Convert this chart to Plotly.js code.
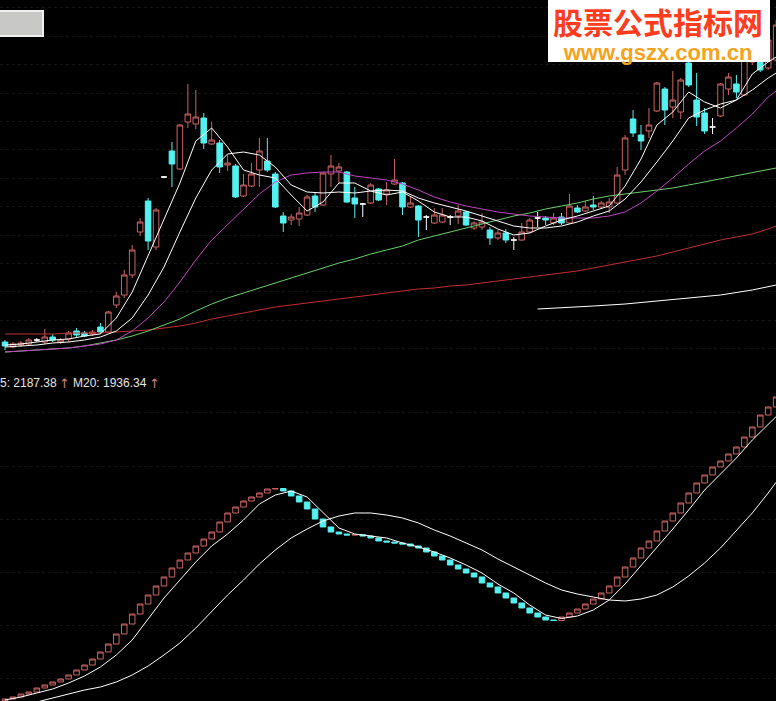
<!DOCTYPE html>
<html>
<head>
<meta charset="utf-8">
<script src="https://cdn.plot.ly/plotly-3.0.1.min.js"></script>
<style>
  html, body { margin: 0; padding: 0; background: #000; }
  #chart { width: 776px; height: 701px; }
</style>
</head>
<body>
<div id="chart"></div>
<script>
// ---- daily candles (price) ----
const openP = [
  3.8,3.3,3.5,3.6,4.0,3.8,4.3,3.8,4.1,4.9,
  4.7,4.6,5.3,4.8,7.5,8.5,10.5,14.8,17.9,13.3,
  20.3,22.9,21.1,25.8,25.6,26.2,23.6,23.7,21.5,21.4,
  18.4,19.4,21.0,21.9,20.6,16.4,16.0,16.1,16.5,18.4,
  17.5,20.6,20.9,20.8,18.2,17.6,17.7,19.1,18.6,19.6,
  19.7,17.3,17.4,16.3,15.7,15.8,16.3,16.4,16.8,15.2,
  15.3,15.0,14.2,14.7,14.0,14.0,14.8,16.2,16.2,15.7,
  16.3,15.7,17.2,16.9,17.5,17.3,17.3,17.7,21.0,26.1,
  24.5,24.9,26.9,29.1,27.3,26.8,31.7,28.0,26.7,25.3,
  26.4,29.1,29.6,28.5,31.8,33.0,31.2,32.0
];
const highP = [
  4.0,3.8,3.9,4.2,4.2,5.1,4.6,4.2,4.9,5.2,
  4.9,5.0,5.7,6.9,8.8,11.0,13.5,16.2,18.2,17.2,
  20.4,23.8,25.6,29.6,29.0,26.7,25.8,24.0,22.5,21.6,
  20.6,21.7,24.2,24.2,20.8,16.8,16.6,17.3,18.5,18.7,
  20.8,22.5,21.7,20.9,19.3,17.7,19.7,19.2,19.8,22.1,
  19.8,18.4,17.5,16.5,17.2,17.2,16.5,17.5,16.9,15.9,
  16.7,15.3,15.0,15.1,14.3,15.7,16.2,16.8,16.4,16.7,
  16.7,18.6,17.5,17.9,18.4,17.9,18.2,21.3,24.5,27.0,
  25.5,27.2,29.8,29.3,30.9,30.2,32.1,30.7,27.2,26.2,
  29.7,30.7,30.5,32.5,34.0,33.5,34.5,36.0
];
const lowP = [
  3.0,3.2,3.3,3.4,3.8,3.6,3.8,3.6,3.8,4.3,
  4.3,4.4,4.6,4.7,7.2,8.2,10.2,14.4,13.0,13.0,
  20.2,19.3,21.0,25.2,25.1,23.1,23.5,20.7,20.9,18.2,
  18.3,19.3,19.3,20.8,17.2,14.8,15.5,15.4,16.4,16.8,
  17.4,19.3,19.7,17.7,16.2,16.3,17.6,17.9,17.5,19.5,
  16.5,17.2,14.3,15.0,15.6,15.7,15.5,15.6,15.4,15.0,
  15.0,13.5,14.0,13.7,13.0,13.9,14.7,15.3,15.5,15.5,
  15.5,15.6,16.7,16.8,17.0,17.2,16.7,17.6,20.5,24.3,
  23.0,24.2,26.8,25.5,26.2,26.1,29.3,25.4,24.6,24.6,
  26.3,28.5,28.2,28.4,31.5,30.8,31.0,31.8
];
const closeP = [
  3.4,3.6,3.7,4.0,4.0,4.3,4.0,4.0,4.7,4.5,
  4.4,4.8,4.8,6.8,8.4,10.5,13.0,15.8,13.9,17.0,
  20.3,21.6,25.5,26.6,26.3,23.7,24.0,21.3,21.7,18.3,
  19.5,20.6,22.9,21.0,17.3,15.7,16.3,16.7,18.3,17.3,
  20.7,21.4,21.3,17.8,17.6,17.6,19.5,18.0,19.0,20.0,
  17.3,17.7,16.0,16.3,16.5,16.5,16.3,16.9,15.5,15.7,
  15.8,14.2,14.7,14.0,14.0,14.8,16.0,16.2,16.0,16.2,
  15.7,17.4,16.8,17.3,17.3,17.7,17.8,20.5,24.2,24.7,
  23.9,25.5,29.7,27.0,28.0,30.0,29.5,26.3,24.9,25.3,
  29.6,30.3,28.8,32.1,33.2,31.0,34.0,35.5
];

// ---- moving averages of price, sampled every other session ----
const maIdx = [0,2,4,6,8,10,12,14,16,18,20,22,24,26,28,30,32,34,36,38,40,42,44,46,48,
               50,52,54,56,58,60,62,64,66,68,70,72,74,76,78,80,82,84,86,88,90,92,94,96,97];
const ma5 = [3.5,3.6,3.8,4.0,4.1,4.4,4.6,6.2,8.8,12.4,16.0,19.7,23.9,25.2,23.3,21.0,20.5,20.2,18.5,16.9,
             17.8,19.7,19.7,18.9,18.5,18.8,17.9,16.8,16.3,16.3,15.9,15.1,14.5,14.7,15.4,16.0,16.4,16.9,17.4,19.4,
             22.1,25.5,26.8,28.8,27.8,27.2,28.0,30.6,31.8,32.3];
const ma10 = [3.3,3.4,3.5,3.7,3.8,4.0,4.3,4.9,6.2,8.5,11.3,14.8,18.2,21.0,22.6,22.8,22.5,21.3,19.5,18.8,
              18.7,18.8,18.7,18.9,19.0,18.9,18.2,17.7,17.3,16.9,16.4,15.9,15.4,15.2,15.2,15.4,15.8,16.4,16.9,18.1,
              19.8,21.8,23.9,26.2,27.0,27.6,28.0,29.0,30.2,30.7];
const ma20 = [2.8,2.9,3.0,3.1,3.2,3.4,3.6,4.0,4.9,6.2,7.8,9.8,12.0,14.0,15.5,17.0,18.6,19.8,20.5,20.7,
              20.8,20.8,20.4,20.2,20.0,19.6,19.0,18.3,17.8,17.4,17.1,16.8,16.6,16.4,16.3,16.2,16.2,16.2,16.4,16.8,
              17.7,18.9,20.2,21.6,22.9,23.9,25.2,26.6,28.3,28.9];
const ma60 = [2.8,2.9,3.0,3.1,3.2,3.4,3.7,4.0,4.4,4.9,5.5,6.1,6.9,7.6,8.2,8.7,9.2,9.7,10.2,10.7,
              11.2,11.7,12.1,12.6,13.0,13.4,14.0,14.4,14.8,15.2,15.6,16.0,16.4,16.7,17.1,17.4,17.7,18.1,18.4,18.6,
              18.8,19.0,19.2,19.5,19.8,20.1,20.4,20.7,21.0,21.2];
const ma120 = [4.6,4.6,4.6,4.6,4.7,4.7,4.7,4.8,4.9,5.0,5.2,5.4,5.7,6.1,6.4,6.7,7.0,7.3,7.5,7.7,
               7.9,8.1,8.3,8.5,8.7,8.9,9.1,9.2,9.4,9.5,9.7,9.9,10.1,10.3,10.5,10.7,10.9,11.2,11.5,11.8,
               12.1,12.4,12.8,13.2,13.6,14.0,14.3,14.6,15.1,15.4];
const ma250Idx = [67,70,74,78,82,86,90,94,97];
const ma250 = [7.1,7.2,7.4,7.6,7.9,8.2,8.5,9.0,9.5];

// ---- lower indicator line and its averages ----
const indStart = 1099.8;
const indicator = [
  1107.4,1115.1,1126.5,1134.2,1149.5,1161.0,1172.5,1183.9,1199.2,1218.3,
  1237.4,1260.4,1287.2,1317.7,1356.0,1394.2,1432.4,1470.7,1505.1,1539.5,
  1574.0,1608.4,1639.0,1665.7,1692.5,1719.3,1746.0,1784.3,1818.7,1841.6,
  1864.6,1879.9,1895.2,1910.5,1912.4,1902.8,1883.7,1860.8,1834.0,1795.7,
  1765.2,1746.0,1738.4,1734.6,1735.7,1730.7,1723.1,1711.6,1707.8,1704.0,
  1700.1,1692.5,1684.8,1669.6,1654.3,1639.0,1619.8,1604.5,1589.2,1574.0,
  1551.0,1535.7,1512.8,1493.6,1474.5,1455.4,1436.3,1421.0,1409.5,1407.6,
  1421.0,1436.3,1451.6,1470.7,1489.8,1512.8,1539.5,1574.0,1612.2,1646.6,
  1684.8,1711.6,1749.9,1788.1,1818.7,1856.9,1895.2,1933.4,1964.0,1994.6,
  2017.5,2044.3,2071.1,2109.3,2147.6,2193.4,2224.0,2262.3
];
const indM5 = [1103.6,1115.1,1130.4,1145.7,1168.6,1195.4,1229.8,1275.7,1333.0,1413.3,
  1493.6,1562.5,1631.3,1692.5,1738.4,1791.9,1853.1,1887.5,1902.8,1879.9,
  1818.7,1761.3,1738.4,1730.7,1723.1,1704.0,1688.7,1669.6,1646.6,1619.8,
  1589.2,1547.2,1512.8,1466.9,1428.6,1415.3,1424.8,1447.8,1486.0,1547.2,
  1616.0,1684.8,1757.5,1830.2,1906.6,1967.8,2029.0,2097.8,2159.0,2187.38];
const indM20 = [1065.4,1080.7,1096.0,1111.2,1126.5,1141.8,1153.3,1172.4,1199.2,1233.6,
  1275.7,1321.6,1378.9,1443.9,1505.1,1562.5,1623.7,1677.2,1723.1,1757.5,
  1788.1,1807.2,1818.7,1818.7,1811.0,1799.6,1780.5,1753.7,1730.7,1704.0,
  1677.2,1642.8,1612.2,1581.6,1551.0,1524.2,1508.9,1497.5,1486.0,1482.2,
  1489.8,1505.1,1535.7,1577.8,1627.5,1684.8,1749.9,1818.7,1895.2,1936.34];

// ---- colours ----
const RED = '#cc6464', CYAN = '#55f0f0', WHITE = '#ffffff';
const PURPLE = '#c045c0', GREEN = '#6ccf6c', DARKRED = '#c03030';

const W = 776, H = 701;
const px = v => v / W;            // horizontal pixel -> paper
const py = v => 1 - v / H;        // vertical pixel -> paper

// split price candles by direction
function pickCandles(test) {
  const s = { x: [], open: [], high: [], low: [], close: [] };
  openP.forEach((o, i) => {
    if (test(o, closeP[i])) {
      s.x.push(i); s.open.push(o); s.high.push(highP[i]);
      s.low.push(lowP[i]); s.close.push(closeP[i]);
    }
  });
  return s;
}
function candleTrace(s, color, fill, yaxis) {
  const side = { line: { color: color, width: 1 }, fillcolor: fill };
  return {
    type: 'candlestick', x: s.x, open: s.open, high: s.high, low: s.low, close: s.close,
    increasing: side, decreasing: side, whiskerwidth: 0, yaxis: yaxis,
    hoverinfo: 'skip', showlegend: false
  };
}
const upC = pickCandles((o, c) => c > o);
const dnC = pickCandles((o, c) => c < o);
const flatC = pickCandles((o, c) => c === o);

// lower indicator drawn as step boxes from previous value to current value
const indPrev = [indStart].concat(indicator.slice(0, -1));
function pickInd(rising) {
  const s = { x: [], open: [], high: [], low: [], close: [] };
  indicator.forEach((v, i) => {
    const p = indPrev[i];
    if ((v >= p) === rising) {
      s.x.push(i); s.open.push(p); s.close.push(v);
      s.high.push(Math.max(p, v)); s.low.push(Math.min(p, v));
    }
  });
  return s;
}
const indUp = pickInd(true), indDn = pickInd(false);

function lineTrace(x, y, color, yaxis) {
  return { type: 'scatter', mode: 'lines', x: x, y: y, yaxis: yaxis,
           line: { color: color, width: 1 }, hoverinfo: 'skip', showlegend: false };
}

const data = [
  candleTrace(upC, RED, '#000000', 'y'),
  candleTrace(dnC, CYAN, CYAN, 'y'),
  candleTrace(flatC, WHITE, WHITE, 'y'),
  candleTrace(indUp, RED, '#000000', 'y2'),
  candleTrace(indDn, CYAN, CYAN, 'y2'),
  lineTrace(maIdx, ma120, DARKRED, 'y'),
  lineTrace(maIdx, ma60, GREEN, 'y'),
  lineTrace(maIdx, ma20, PURPLE, 'y'),
  lineTrace(ma250Idx, ma250, WHITE, 'y'),
  lineTrace(maIdx, ma10, WHITE, 'y'),
  lineTrace(maIdx, ma5, WHITE, 'y'),
  lineTrace(maIdx, indM20, WHITE, 'y2'),
  lineTrace(maIdx, indM5, WHITE, 'y2')
];

const m5Last = indM5[indM5.length - 1];
const m20Last = indM20[indM20.length - 1];
const hdrFont = { family: 'Liberation Sans, Arial, sans-serif', size: 12, color: '#e6e6e6' };
const arrowFont = { family: 'DejaVu Sans, sans-serif', size: 13, color: '#c88080' };

// two-line site badge: name on top, address below
const badgeText =
  '<span style="font-family:Noto Sans CJK SC;font-size:30px;color:#ff3c1e"><b>股票公式指标网</b></span>' +
  '<br>' +
  '<span style="font-family:Liberation Sans;font-size:22px;color:#f5a31c"><b>www.gszx.com.cn</b></span>';

const layout = {
  width: W, height: H,
  margin: { l: 0, r: 0, t: 0, b: 0 },
  paper_bgcolor: '#000000', plot_bgcolor: '#000000',
  showlegend: false,
  boxgap: 0.3, boxgroupgap: 0,
  xaxis: {
    range: [-5 / 7.95, 771 / 7.95], showgrid: false, zeroline: false,
    showticklabels: false, ticks: '', showline: false,
    rangeslider: { visible: false }, fixedrange: true
  },
  yaxis: {
    domain: [1 - 370 / H, 1], range: [1.0, 38.0],
    showgrid: true, gridcolor: '#141414', griddash: 'dot', gridwidth: 1,
    tick0: 28.7, dtick: 2.84,
    zeroline: false, showticklabels: false, ticks: '', showline: false, fixedrange: true
  },
  yaxis2: {
    domain: [0, 311 / H], range: [1099.8, 2289.0], anchor: 'x',
    showgrid: true, gridcolor: '#141414', griddash: 'dot', gridwidth: 1,
    tick0: 2201.1, dtick: 202.7,
    zeroline: false, showticklabels: false, ticks: '', showline: false, fixedrange: true
  },
  shapes: [
    // window button, top left
    { type: 'rect', xref: 'paper', yref: 'paper', layer: 'above',
      x0: px(-2), x1: px(43), y0: py(36), y1: py(11),
      fillcolor: '#c8c8c6', line: { color: '#efefef', width: 2 } },
    // site badge, top right
    { type: 'rect', xref: 'paper', yref: 'paper', layer: 'above',
      x0: px(548), x1: px(770), y0: py(62), y1: py(-2),
      fillcolor: '#ffffff', line: { width: 0 } }
  ],
  annotations: [
    { xref: 'paper', yref: 'paper', x: px(-2), y: py(383), xanchor: 'left', yanchor: 'middle',
      showarrow: false, text: '5: ' + m5Last.toFixed(2), font: hdrFont },
    { xref: 'paper', yref: 'paper', x: px(57), y: py(383), xanchor: 'left', yanchor: 'middle',
      showarrow: false, text: '↑', font: arrowFont },
    { xref: 'paper', yref: 'paper', x: px(71), y: py(383), xanchor: 'left', yanchor: 'middle',
      showarrow: false, text: 'M20: ' + m20Last.toFixed(2), font: hdrFont },
    { xref: 'paper', yref: 'paper', x: px(147), y: py(383), xanchor: 'left', yanchor: 'middle',
      showarrow: false, text: '↑', font: arrowFont },
    { xref: 'paper', yref: 'paper', x: px(658), y: py(32), xanchor: 'center', yanchor: 'middle',
      showarrow: false, align: 'center', text: badgeText,
      font: { family: 'Liberation Sans, Arial, sans-serif', size: 20, color: '#f5a31c' } }
  ]
};

Plotly.newPlot('chart', data, layout, { staticPlot: true, displayModeBar: false });
</script>
</body>
</html>
